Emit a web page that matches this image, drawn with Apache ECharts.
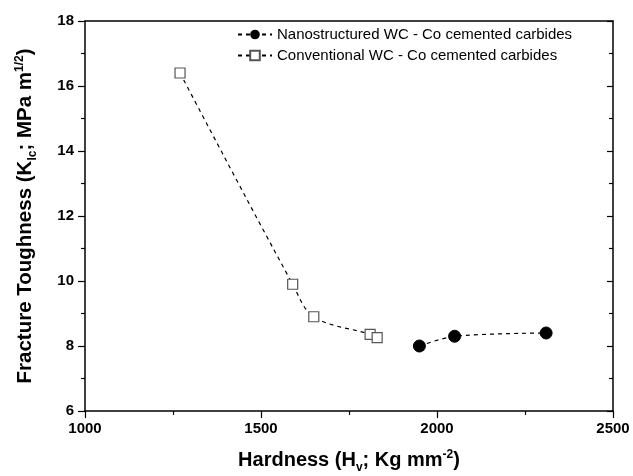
<!DOCTYPE html>
<html>
<head>
<meta charset="utf-8">
<script src="https://cdn.jsdelivr.net/npm/echarts@6/dist/echarts.min.js"></script>
<style>
  html, body { margin: 0; padding: 0; background: #fff; }
  #chart { width: 633px; height: 476px; }
</style>
</head>
<body>
<div id="chart"></div>
<script>
// 数据 - 纳米结构 / 常规 WC-Co 硬质合金
const nanoHardness = [1950, 2050, 2310]
const nanoToughness = [8.0, 8.3, 8.4]
const convHardness = [1270, 1590, 1650, 1810, 1830]
const convToughness = [16.4, 9.9, 8.9, 8.36, 8.26]
const seriesNames = [
  'Nanostructured WC - Co cemented carbides',
  'Conventional WC - Co cemented carbides'
]

const FONT = '"Liberation Sans", Arial, sans-serif'
const pair = (xs, ys) => xs.map((x, i) => [x, ys[i]])

// 标题富文本 - 上下标
const makeRich = (size) => ({
  a: { fontFamily: FONT, fontSize: size, fontWeight: 'bold', color: '#000', lineHeight: 26, verticalAlign: 'middle' },
  s: { fontFamily: FONT, fontSize: 12, fontWeight: 'bold', color: '#000', lineHeight: 26, verticalAlign: 'bottom', padding: [0, 0, -1, 0] },
  p: { fontFamily: FONT, fontSize: 12, fontWeight: 'bold', color: '#000', lineHeight: 26, verticalAlign: 'top', padding: [2, 0, 0, 0] }
})

const axisLineStyle = { color: '#000', width: 1.5 }
const tickLabel = { fontFamily: FONT, fontSize: 15, fontWeight: 'bold', color: '#000' }

const myChart = echarts.init(document.getElementById('chart'), null, { renderer: 'canvas' })
myChart.setOption({
  animation: false,
  backgroundColor: '#fff',
  grid: { left: 85, right: 20, top: 21, bottom: 65, containLabel: false, outerBoundsMode: 'none' },
  legend: {
    orient: 'vertical',
    left: 232,
    top: 22,
    itemGap: 6,
    itemWidth: 34,
    itemHeight: 12,
    textStyle: { fontFamily: FONT, fontSize: 15, color: '#000' },
    data: seriesNames
  },
  xAxis: [
    {
      type: 'value',
      min: 1000,
      max: 2500,
      interval: 500,
      name: '{a|Hardness (H}{s|v}{a|; Kg mm}{p|-2}{a|)}',
      nameLocation: 'middle',
      nameGap: 36,
      nameTextStyle: { rich: makeRich(20) },
      axisLine: { lineStyle: axisLineStyle },
      axisTick: { length: 7, lineStyle: { color: '#000', width: 1.2 } },
      minorTick: { show: true, splitNumber: 2, length: 4, lineStyle: { color: '#000', width: 1.2 } },
      axisLabel: Object.assign({ margin: 10, formatter: (v) => String(v) }, tickLabel),
      splitLine: { show: false }
    },
    {
      type: 'value',
      position: 'top',
      min: 1000,
      max: 2500,
      interval: 500,
      axisLine: { lineStyle: axisLineStyle },
      axisTick: { show: false },
      axisLabel: { show: false },
      splitLine: { show: false }
    }
  ],
  yAxis: [
    {
      type: 'value',
      min: 6,
      max: 18,
      interval: 2,
      name: '{a|Fracture Toughness (K}{s|Ic}{a|; MPa m}{p|1/2}{a|)}',
      nameLocation: 'middle',
      nameGap: 47,
      nameTextStyle: { rich: makeRich(20.5) },
      axisLine: { lineStyle: axisLineStyle },
      axisTick: { length: 7, lineStyle: { color: '#000', width: 1.2 } },
      minorTick: { show: true, splitNumber: 2, length: 4, lineStyle: { color: '#000', width: 1.2 } },
      axisLabel: Object.assign({ margin: 11, formatter: (v) => String(v) }, tickLabel),
      splitLine: { show: false }
    },
    {
      type: 'value',
      position: 'right',
      min: 6,
      max: 18,
      interval: 2,
      axisLine: { show: true, lineStyle: axisLineStyle },
      axisTick: { inside: true, length: 6, lineStyle: { color: '#000', width: 1.2 } },
      minorTick: { show: true, splitNumber: 2, length: 4, lineStyle: { color: '#000', width: 1.2 } },
      axisLabel: { show: false },
      splitLine: { show: false }
    }
  ],
  series: [
    {
      name: seriesNames[0],
      type: 'line',
      smooth: 0.3,
      data: pair(nanoHardness, nanoToughness),
      symbol: 'circle',
      symbolSize: 12,
      itemStyle: { color: '#000', borderColor: '#000' },
      lineStyle: { color: '#000', width: 1.2, type: [4, 4] }
    },
    {
      name: seriesNames[1],
      type: 'line',
      smooth: 0.35,
      data: pair(convHardness, convToughness),
      symbol: 'rect',
      symbolSize: 10,
      itemStyle: { color: '#fff', borderColor: '#555', borderWidth: 1.2 },
      lineStyle: { color: '#000', width: 1.2, type: [4, 4] }
    }
  ]
})
</script>
</body>
</html>
